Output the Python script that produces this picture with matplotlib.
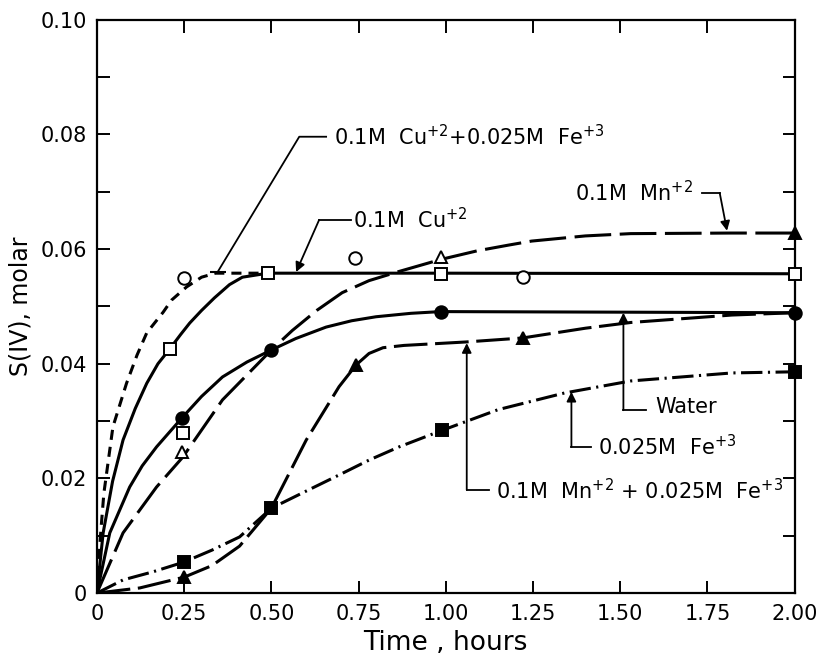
import matplotlib
matplotlib.use("Agg")
import matplotlib.pyplot as plt
from matplotlib.ticker import MultipleLocator, FixedLocator

plt.rcParams.update({"font.family": ["DejaVu Sans"], "font.size": 15,
                     "mathtext.fontset": "dejavusans"})

# traced curves, time (h) vs S(IV) (molar)
cufe_t = [0, 0.01, 0.02, 0.046, 0.085, 0.115, 0.143, 0.19, 0.214, 0.257, 0.30, 0.34, 0.50]
cufe_s = [0, 0.0098, 0.0174, 0.029, 0.0366, 0.0415, 0.0454, 0.0490, 0.0511, 0.0534, 0.0551, 0.0558, 0.0558]

cu_t = [0, 0.018, 0.045, 0.075, 0.11, 0.143, 0.175, 0.209, 0.24, 0.266, 0.30, 0.337, 0.38, 0.417, 0.49, 1.0, 2.0]
cu_s = [0, 0.0105, 0.0195, 0.0267, 0.0322, 0.0366, 0.0400, 0.0426, 0.0451, 0.0471, 0.0493, 0.0515, 0.0538, 0.0551, 0.0558, 0.0558, 0.0557]

water_t = [0, 0.037, 0.094, 0.13, 0.171, 0.243, 0.30, 0.36, 0.43, 0.5, 0.57, 0.657, 0.73, 0.8, 0.9, 0.985, 1.5, 2.0]
water_s = [0, 0.0105, 0.0185, 0.0222, 0.0255, 0.0305, 0.0343, 0.0377, 0.0403, 0.0424, 0.0444, 0.0464, 0.0475, 0.0482, 0.0488, 0.0491, 0.0490, 0.0489]

mn_t = [0, 0.075, 0.171, 0.246, 0.36, 0.5, 0.56, 0.63, 0.703, 0.78, 0.866, 0.986, 1.09, 1.18, 1.246, 1.40, 1.53, 1.817, 2.0]
mn_s = [0, 0.0105, 0.0185, 0.0237, 0.0337, 0.0424, 0.0458, 0.0493, 0.0524, 0.0545, 0.0561, 0.0582, 0.0597, 0.0607, 0.0614, 0.0623, 0.0627, 0.0628, 0.0628]

fe_t = [0, 0.075, 0.16, 0.249, 0.33, 0.409, 0.5, 0.6, 0.694, 0.78, 0.866, 0.99, 1.15, 1.34, 1.53, 1.82, 2.0]
fe_s = [0, 0.0023, 0.0037, 0.0054, 0.0075, 0.0098, 0.0148, 0.0178, 0.0206, 0.0232, 0.0255, 0.0284, 0.0320, 0.0349, 0.0370, 0.0384, 0.0386]

mnfe_t = [0, 0.123, 0.251, 0.33, 0.409, 0.5, 0.6, 0.694, 0.743, 0.78, 0.82, 0.88, 1.057, 1.22, 1.40, 1.53, 1.82, 2.0]
mnfe_s = [0, 0.0009, 0.0028, 0.0048, 0.0082, 0.0148, 0.0267, 0.036, 0.0398, 0.0418, 0.0428, 0.0432, 0.0438, 0.0445, 0.0462, 0.0472, 0.0485, 0.0489]

# measured points
open_circ_t = [0.249, 0.74, 1.22]
open_circ_s = [0.0550, 0.0585, 0.0551]
open_sq_t = [0.209, 0.246, 0.49, 0.985, 2.0]
open_sq_s = [0.0426, 0.0279, 0.0558, 0.0557, 0.0557]
open_tri_t = [0.243, 0.985]
open_tri_s = [0.0246, 0.0587]
fill_circ_t = [0.243, 0.5, 0.985, 2.0]
fill_circ_s = [0.0305, 0.0424, 0.0490, 0.0489]
fill_sq_t = [0.249, 0.5, 0.99, 2.0]
fill_sq_s = [0.0054, 0.0148, 0.0284, 0.0386]
fill_tri_t = [0.251, 0.743, 1.22, 2.0]
fill_tri_s = [0.0028, 0.0398, 0.0445, 0.0628]

x_ticks = [0, 0.25, 0.5, 0.75, 1.0, 1.25, 1.5, 1.75, 2.0]
x_labels = ["0", "0.25", "0.50", "0.75", "1.00", "1.25", "1.50", "1.75", "2.00"]
y_ticks = [0, 0.02, 0.04, 0.06, 0.08, 0.10]
y_labels = ["0", "0.02", "0.04", "0.06", "0.08", "0.10"]

fig = plt.figure(figsize=(8.21, 6.59), dpi=100)
ax = fig.add_axes([0.118, 0.100, 0.850, 0.870])

lw = 2.2
ax.plot(cufe_t, cufe_s, color="k", lw=lw, dashes=(3.3, 2.3))
ax.plot(cu_t, cu_s, color="k", lw=lw)
ax.plot(water_t, water_s, color="k", lw=lw)
ax.plot(mn_t, mn_s, color="k", lw=lw, dashes=(12, 2.8))
ax.plot(fe_t, fe_s, color="k", lw=lw, dashes=(7, 1.8, 0.7, 1.8))
ax.plot(mnfe_t, mnfe_s, color="k", lw=lw, dashes=(11, 2.5))

mk = dict(ls="none", color="k", ms=9, mew=1.4, zorder=5, clip_on=False)
ax.plot(open_circ_t, open_circ_s, marker="o", mfc="white", **mk)
ax.plot(open_sq_t, open_sq_s, marker="s", mfc="white", **mk)
ax.plot(open_tri_t, open_tri_s, marker="^", mfc="white", **mk)
ax.plot(fill_circ_t, fill_circ_s, marker="o", mfc="k", **mk)
ax.plot(fill_sq_t, fill_sq_s, marker="s", mfc="k", **mk)
ax.plot(fill_tri_t, fill_tri_s, marker="^", mfc="k", **mk)

# labels with leader lines
lead = dict(color="k", lw=1.3)
arr = dict(arrowstyle="-|>", color="k", lw=1.3, mutation_scale=14, shrinkA=0, shrinkB=0)

ax.plot([0.657, 0.58, 0.346], [0.0796, 0.0796, 0.0560], **lead)
ax.plot([0.346], [0.0560], marker="_", color="k", ms=12, mew=1.5)
ax.text(0.68, 0.0796, r"0.1M  Cu$^{+2}$+0.025M  Fe$^{+3}$", va="center", ha="left")

ax.plot([0.729, 0.637], [0.0651, 0.0651], **lead)
ax.annotate("", xy=(0.571, 0.0560), xytext=(0.637, 0.0651), arrowprops=arr)
ax.text(0.735, 0.0651, r"0.1M  Cu$^{+2}$", va="center", ha="left")

ax.plot([1.735, 1.785], [0.0698, 0.0698], **lead)
ax.annotate("", xy=(1.806, 0.0632), xytext=(1.785, 0.0698), arrowprops=arr)
ax.text(1.37, 0.0698, r"0.1M  Mn$^{+2}$", va="center", ha="left")

ax.plot([1.574, 1.509], [0.0319, 0.0319], **lead)
ax.annotate("", xy=(1.509, 0.0489), xytext=(1.509, 0.0319), arrowprops=arr)
ax.text(1.60, 0.0325, "Water", va="center", ha="left")

ax.plot([1.417, 1.36], [0.0255, 0.0255], **lead)
ax.annotate("", xy=(1.36, 0.0351), xytext=(1.36, 0.0255), arrowprops=arr)
ax.text(1.437, 0.0255, r"0.025M  Fe$^{+3}$", va="center", ha="left")

ax.plot([1.123, 1.06], [0.0180, 0.0180], **lead)
ax.annotate("", xy=(1.06, 0.0436), xytext=(1.06, 0.0180), arrowprops=arr)
ax.text(1.143, 0.0178, r"0.1M  Mn$^{+2}$ + 0.025M  Fe$^{+3}$", va="center", ha="left")

ax.set_xlim(0, 2.0)
ax.set_ylim(0, 0.10)
ax.xaxis.set_major_locator(FixedLocator(x_ticks))
ax.set_xticklabels(x_labels)
ax.yaxis.set_major_locator(FixedLocator(y_ticks))
ax.yaxis.set_minor_locator(MultipleLocator(0.01))
ax.set_yticklabels(y_labels)
ax.tick_params(which="both", direction="in", top=True, right=True, length=9, width=1.4,
               labelsize=15)
ax.tick_params(axis="x", pad=8)
ax.tick_params(axis="y", pad=7)
for s in ax.spines.values():
    s.set_linewidth(1.6)
ax.set_xlabel("Time , hours", fontsize=19, labelpad=4)
ax.set_ylabel("S(IV), molar", fontsize=17, labelpad=6)

fig.savefig("out.png", dpi=100)
